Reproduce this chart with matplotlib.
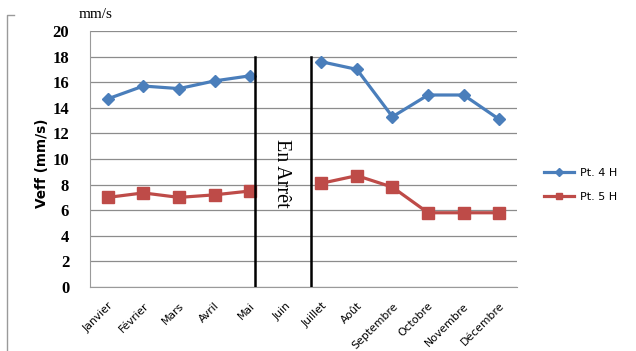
import matplotlib
matplotlib.use("Agg")
import matplotlib.pyplot as plt
import numpy as np
from matplotlib.lines import Line2D

# Monthly effective vibration velocity, two measurement points
months = ["Janvier", "Février", "Mars", "Avril", "Mai", "Juin", "Juillet",
          "Août", "Septembre", "Octobre", "Novembre", "Décembre"]
pt4h = [14.7, 15.7, 15.5, 16.1, 16.5, np.nan, 17.6, 17.0, 13.3, 15.0, 15.0, 13.1]
pt5h = [7.0, 7.35, 7.0, 7.2, 7.5, np.nan, 8.1, 8.7, 7.8, 5.8, 5.8, 5.8]
stop_bounds = [4.15, 5.7]
stop_top = 18
stop_label = "En Arrêt"

BLUE = "#4A7EBB"
RED = "#BE4B48"

fig = plt.figure(figsize=(6.36, 3.51), dpi=100)
ax = fig.add_axes([90 / 636, 1 - 287 / 351, 427 / 636, 256 / 351])

x = np.arange(len(months))
ax.plot(x, pt4h, color=BLUE, lw=2.3, marker="D", ms=6.5, label="Pt. 4 H", zorder=4)
ax.plot(x, pt5h, color=RED, lw=2.3, marker="s", ms=8, label="Pt. 5 H", zorder=4)

for xb in stop_bounds:
    ax.plot([xb, xb], [0, stop_top], color="black", lw=1.8, zorder=5)

ax.text(4.89, 8.9, stop_label, rotation=-90, ha="center", va="center",
        family="Liberation Serif", fontsize=14.5, zorder=6)

ax.set_xlim(-0.5, len(months) - 0.5)
ax.set_ylim(0, 20)
ax.set_yticks(range(0, 21, 2))
ax.yaxis.grid(True, color="#8c8c8c", lw=0.9)
ax.set_axisbelow(True)
for side in ["top", "right"]:
    ax.spines[side].set_visible(False)
ax.spines["left"].set_color("#9a9a9a")
ax.spines["bottom"].set_color("#9a9a9a")
ax.tick_params(axis="y", length=0, pad=15)
ax.tick_params(axis="x", length=0, pad=10)
for lbl in ax.get_yticklabels():
    lbl.set_family("Liberation Serif")
    lbl.set_fontweight("bold")
    lbl.set_fontsize(12)

ax.set_xticks(x)
ax.set_xticklabels(months, rotation=45, ha="right", va="top", rotation_mode="anchor",
                   fontsize=7.8, family="DejaVu Sans")
for lbl in ax.get_xticklabels():
    lbl.set_x(lbl.get_position()[0] + 0.06)

fig.text(42 / 636, 1 - 163 / 351, "Veff (mm/s)", rotation=90, ha="center", va="center",
         fontsize=9.8, fontweight="bold", family="DejaVu Sans")
fig.text(96 / 636, 1 - 15 / 351, "mm/s", ha="center", va="center",
         family="Liberation Serif", fontsize=11)

ax.legend(loc="center left", bbox_to_anchor=(534 / 636, 1 - 185 / 351),
          bbox_transform=fig.transFigure, frameon=False, fontsize=8,
          handlelength=2.7, markerscale=0.6, labelspacing=1.2, handletextpad=0.5)

# partial outer frame
fig.add_artist(Line2D([7 / 636, 7 / 636, 14 / 636], [0, 1 - 15 / 351, 1 - 15 / 351],
                      transform=fig.transFigure, color="#9a9a9a", lw=1))

fig.savefig("out.png", dpi=100)
